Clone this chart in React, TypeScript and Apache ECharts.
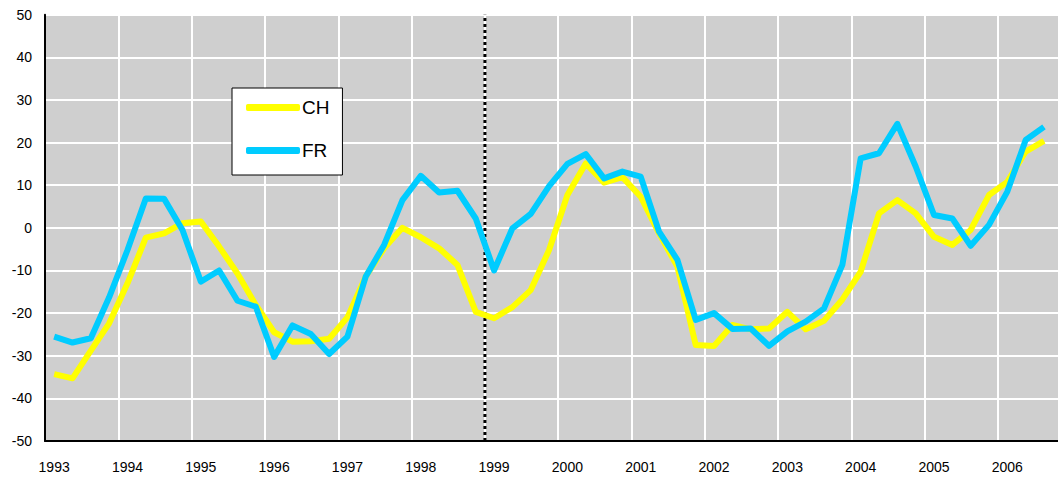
import React, { useEffect, useRef } from "react";
import * as echarts from "echarts";

const years = ["1993","1994","1995","1996","1997","1998","1999","2000","2001","2002","2003","2004","2005","2006"];
const quarters = ["Q1","Q2","Q3","Q4"];

const chValues = [
  -34.3, -35.3, -28.8, -22.4, -13.0, -2.3, -1.3, 1.1, 1.5, -4.4,
  -10.7, -18.1, -24.5, -26.7, -26.6, -26.0, -21.0, -11.4, -4.8, 0.0,
  -2.2, -4.8, -8.7, -19.7, -21.2, -18.6, -14.6, -5.2, 7.7, 15.1,
  10.6, 11.9, 7.3, -1.3, -9.1, -27.5, -27.7, -22.8, -23.8, -23.6,
  -19.7, -23.8, -21.8, -16.8, -10.3, 3.4, 6.5, 3.4, -2.1, -4.0,
  -0.5, 7.7, 10.8, 17.9, 20.4, null,
];

const frValues = [
  -25.5, -26.9, -25.9, -16.3, -5.2, 6.9, 6.8, -0.5, -12.6, -10.0,
  -17.1, -18.5, -30.3, -22.9, -24.9, -29.6, -25.5, -11.4, -4.0, 6.5,
  12.2, 8.3, 8.7, 2.2, -10.0, -0.1, 3.3, 9.8, 15.0, 17.3,
  11.6, 13.2, 12.0, -0.9, -7.5, -21.6, -20.0, -23.7, -23.6, -27.7,
  -24.3, -22.0, -18.9, -8.7, 16.3, 17.5, 24.4, 14.4, 3.0, 2.2,
  -4.2, 0.7, 8.5, 20.6, 23.7, null,
];

// Euro introduction marker: boundary before 1999 Q1 (category index 24)
const markerPosition = 24;
const yMin = -50;
const yMax = 50;
const yStep = 10;

const categories: string[] = [];
years.forEach((y) => quarters.forEach((q) => categories.push(y + " " + q)));

const FONT = "'Liberation Sans', Arial, sans-serif";

export default function App() {
  const ref = useRef<HTMLDivElement>(null);
  useEffect(() => {
    if (!ref.current) return;
    const chart = echarts.init(ref.current, null, { renderer: "svg" });
    chart.setOption({
      animation: false,
      backgroundColor: "#ffffff",
      grid: {
        left: 45,
        top: 14.7,
        width: 18.33 * categories.length,
        height: 426.3,
        show: true,
        backgroundColor: "#cfcfcf",
        borderColor: "#333333",
        borderWidth: 1,
      },
      legend: {
        data: ["CH", "FR"],
        orient: "vertical",
        left: 232,
        top: 88,
        icon: "roundRect",
        itemWidth: 54,
        itemHeight: 7,
        itemGap: 24,
        padding: [10, 13, 15, 14],
        backgroundColor: "#ffffff",
        borderColor: "#000000",
        borderWidth: 1,
        textStyle: { fontFamily: FONT, fontSize: 19, color: "#000000", padding: [0, 0, 0, -3] },
        z: 10,
      },
      xAxis: [
        {
          type: "category",
          data: categories,
          boundaryGap: true,
          axisLine: { show: true, onZero: false, lineStyle: { color: "#000000", width: 2 } },
          axisTick: { show: false },
          axisLabel: {
            interval: 3,
            margin: 19,
            fontFamily: FONT,
            fontSize: 14,
            color: "#000000",
            formatter: (v: string) => v.slice(0, 4),
          },
          splitLine: { show: true, interval: 3, lineStyle: { color: "#ffffff", width: 2 } },
        },
        {
          type: "value",
          min: 0,
          max: categories.length,
          show: false,
          axisLine: { onZero: false },
          splitLine: { show: false },
        },
      ],
      yAxis: {
        type: "value",
        min: yMin,
        max: yMax,
        interval: yStep,
        axisLine: { show: true, onZero: false, lineStyle: { color: "#000000", width: 2 } },
        axisTick: { show: false },
        axisLabel: { margin: 13, fontFamily: FONT, fontSize: 14, color: "#000000" },
        splitLine: { show: true, lineStyle: { color: "#ffffff", width: 2 } },
      },
      series: [
        {
          name: "marker",
          type: "line",
          xAxisIndex: 1,
          data: [[markerPosition, yMin], [markerPosition, yMax]],
          symbol: "none",
          lineStyle: { color: "#000000", width: 3, type: [3, 3] },
          silent: true,
          z: 1,
        },
        {
          name: "CH",
          type: "line",
          data: chValues,
          symbol: "none",
          lineStyle: { color: "#ffff00", width: 6, join: "round" },
          itemStyle: { color: "#ffff00" },
          z: 2,
        },
        {
          name: "FR",
          type: "line",
          data: frValues,
          symbol: "none",
          lineStyle: { color: "#00ccff", width: 6, join: "round" },
          itemStyle: { color: "#00ccff" },
          z: 3,
        },
      ],
    });
    return () => chart.dispose();
  }, []);
  return (
    <div style={{ position: "fixed", left: 0, top: 0, width: 1058, height: 479, overflow: "hidden", background: "#ffffff" }}>
      <div ref={ref} style={{ width: 1080, height: 479 }} />
    </div>
  );
}
